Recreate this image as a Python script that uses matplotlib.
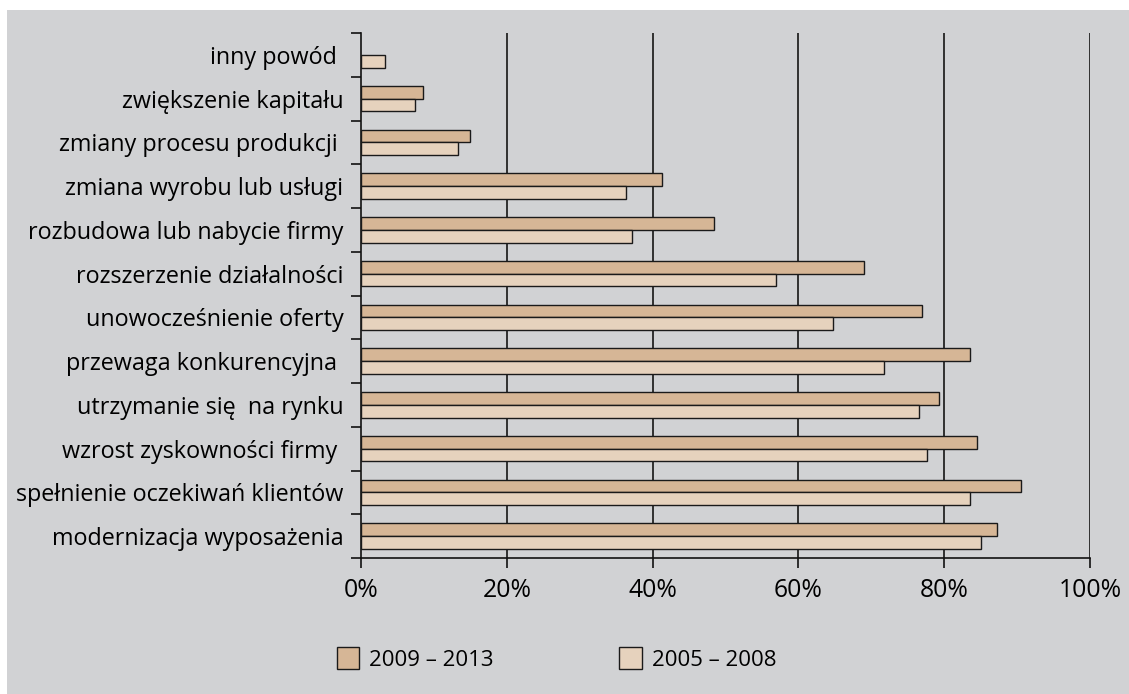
import matplotlib
matplotlib.use("Agg")
import matplotlib.pyplot as plt
from matplotlib.patches import Rectangle, Patch
import numpy as np

categories = [
    "inny powód ",
    "zwiększenie kapitału",
    "zmiany procesu produkcji ",
    "zmiana wyrobu lub usługi",
    "rozbudowa lub nabycie firmy",
    "rozszerzenie działalności",
    "unowocześnienie oferty",
    "przewaga konkurencyjna ",
    "utrzymanie się  na rynku",
    "wzrost zyskowności firmy ",
    "spełnienie oczekiwań klientów",
    "modernizacja wyposażenia",
]
s2009_2013 = [np.nan, 8.5, 15.0, 41.3, 48.4, 69.0, 77.0, 83.6, 79.3, 84.5, 90.5, 87.3]
s2005_2008 = [3.3, 7.4, 13.3, 36.4, 37.2, 56.9, 64.7, 71.7, 76.6, 77.7, 83.6, 85.0]
series_labels = ["2009 – 2013", "2005 – 2008"]
xticks = [0, 20, 40, 60, 80, 100]
xtick_labels = ["0%", "20%", "40%", "60%", "80%", "100%"]

c_dark = "#d6b696"
c_light = "#e6d2bd"
bg = "#d1d2d4"
edge = "#1a1a1a"

plt.rcParams['font.family'] = ['Open Sans', 'DejaVu Sans']
FS_CAT = 16.8
FS_TICK = 17.8
FS_LEG = 16.0

W, H = 1129, 694
fig = plt.figure(figsize=(W / 100, H / 100), dpi=100)
fig.patch.set_facecolor("white")
fig.patches.append(Rectangle((7 / W, 0), 1 - 7 / W, 1 - 10 / H, transform=fig.transFigure,
                             facecolor=bg, edgecolor="none", zorder=-10))

ax = fig.add_axes([361 / W, 1 - 558 / H, (1090 - 361) / W, (558 - 33) / H])
ax.set_facecolor("none")

n = len(categories)
y = np.arange(n)
h = 0.29
ax.barh(y - h / 2, s2009_2013, height=h, color=c_dark, edgecolor=edge, linewidth=1.0, zorder=3)
ax.barh(y + h / 2, s2005_2008, height=h, color=c_light, edgecolor=edge, linewidth=1.0, zorder=3)

ax.set_ylim(n - 0.5, -0.5)
ax.set_xlim(0, 100)

# gridlines
for xv in xticks[1:]:
    ax.axvline(xv, color="#151515", linewidth=1.2, zorder=1)

for s in ["top", "right"]:
    ax.spines[s].set_visible(False)
for s in ["left", "bottom"]:
    ax.spines[s].set_color("#111111")
    ax.spines[s].set_linewidth(1.2)

ax.set_xticks(xticks)
ax.set_xticklabels(xtick_labels, fontsize=FS_TICK)
ax.tick_params(axis="x", length=7, width=1.2, color="#111111", pad=7.5)

ax.set_yticks(np.arange(-0.5, n, 1.0))
ax.set_yticklabels([])
ax.tick_params(axis="y", which="major", length=7, width=1.2, color="#111111")
ax.set_yticks(y, minor=True)
ax.set_yticklabels(categories, minor=True, fontsize=FS_CAT)
ax.tick_params(axis="y", which="minor", length=0, pad=12.7)

handles = [Patch(facecolor=c_dark, edgecolor=edge, linewidth=1.0),
           Patch(facecolor=c_light, edgecolor=edge, linewidth=1.0)]
fig.legend(handles, series_labels, loc="center left", bbox_to_anchor=(337 / W, 35 / H),
           ncol=2, frameon=False, fontsize=FS_LEG, handlelength=1.0, handleheight=1.15,
           handletextpad=0.45, columnspacing=5.65, borderaxespad=0, borderpad=0)

fig.savefig("out.png", dpi=100, facecolor="white")
